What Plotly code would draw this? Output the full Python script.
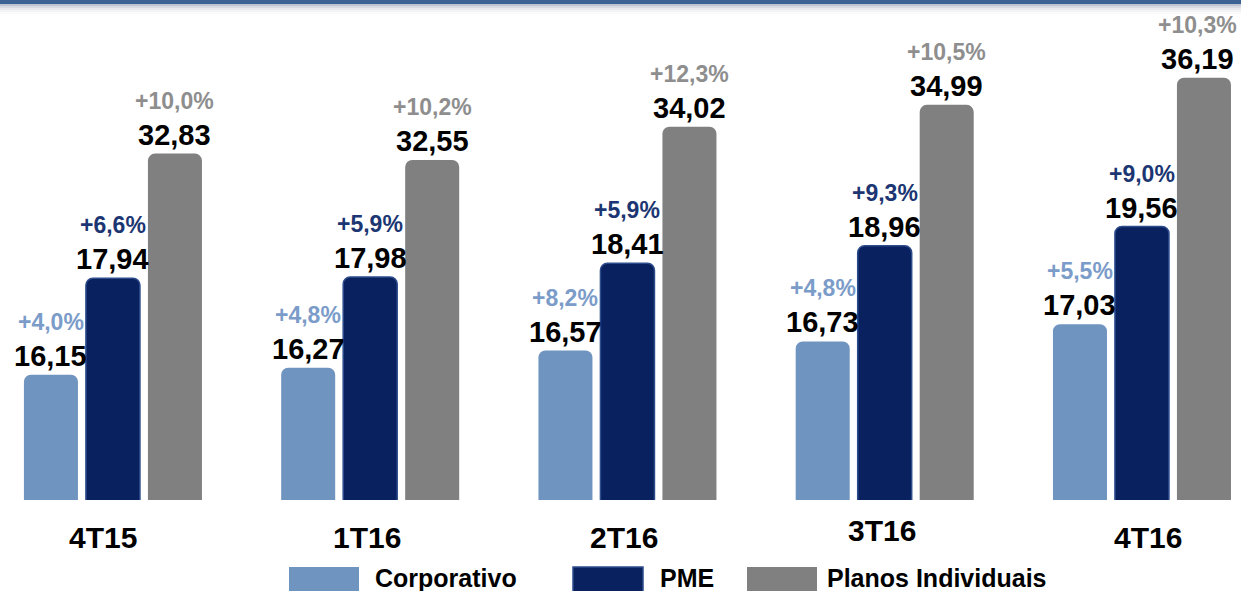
import plotly.graph_objects as go

# ---- data ----
categories = ["4T15", "1T16", "2T16", "3T16", "4T16"]
series_names = ["Corporativo", "PME", "Planos Individuais"]
corporativo = [16.15, 16.27, 16.57, 16.73, 17.03]
pme = [17.94, 17.98, 18.41, 18.96, 19.56]
planos = [32.83, 32.55, 34.02, 34.99, 36.19]
corporativo_growth = ["+4,0%", "+4,8%", "+8,2%", "+4,8%", "+5,5%"]
pme_growth = ["+6,6%", "+5,9%", "+5,9%", "+9,3%", "+9,0%"]
planos_growth = ["+10,0%", "+10,2%", "+12,3%", "+10,5%", "+10,3%"]

# ---- styles ----
W, H = 1241, 591
FONT = "Arial, Liberation Sans, sans-serif"
bar_colors = ["#6f94c0", "#0a2160", "#808080"]
bar_lines = ["#6f94c0", "#2d4c8c", "#808080"]
pct_colors = ["#7b9cc9", "#1b3672", "#8e8e8e"]
axis_ranges = [[13.97, 22.67], [11.0, 26.65], [17.47, 39.64]]
offsets = [-0.346, -0.105, 0.136]
bar_w = 0.21
yrefs = ["y", "y2", "y3"]

fig = go.Figure()
x = list(range(len(categories)))
values = [corporativo, pme, planos]
growths = [corporativo_growth, pme_growth, planos_growth]

annotations = []
for k, (name, vals, gr) in enumerate(zip(series_names, values, growths)):
    fig.add_trace(go.Bar(
        x=x, y=vals, name=name, yaxis=yrefs[k],
        offset=offsets[k], width=bar_w,
        marker=dict(color=bar_colors[k], cornerradius=7,
                    line=dict(color=bar_lines[k], width=1.5 if k == 1 else 0)),
        showlegend=False, hoverinfo="skip",
    ))
    for i, v in enumerate(vals):
        cx = i + offsets[k] + bar_w / 2
        edge_shift = -6 if (k == 2 and i == len(vals) - 1) else 0
        annotations.append(dict(
            x=cx, y=v, xref="x", yref=yrefs[k], text=f"{v:.2f}".replace(".", ","),
            showarrow=False, yanchor="middle", yshift=19, xshift=edge_shift,
            font=dict(family=FONT, size=29, color="#000000", weight="bold")))
        annotations.append(dict(
            x=cx, y=v, xref="x", yref=yrefs[k], text=gr[i],
            showarrow=False, yanchor="middle", yshift=53, xshift=edge_shift,
            font=dict(family=FONT, size=23, color=pct_colors[k], weight="bold")))

# category labels under groups
cat_y_px = [537, 537, 537, 530, 537]
cat_x_shift = [-10, -3, -3, -3, 6]
PLOT_BOTTOM = 500
for i, c in enumerate(categories):
    annotations.append(dict(
        x=i, y=(PLOT_BOTTOM - cat_y_px[i]) / PLOT_BOTTOM, xref="x", yref="paper",
        text=c, showarrow=False, yanchor="middle", xshift=cat_x_shift[i],
        font=dict(family=FONT, size=30, color="#000000", weight="bold")))

# manual legend
shapes = []
legend_swatch_px = [(289, 359), (573, 643), (747, 817)]
legend_text_px = [373, 658, 825]
def py(p):
    return (PLOT_BOTTOM - p) / PLOT_BOTTOM
for k, name in enumerate(series_names):
    x0, x1 = legend_swatch_px[k]
    shapes.append(dict(type="rect", xref="paper", yref="paper",
                       x0=x0 / W, x1=x1 / W, y0=py(596), y1=py(567),
                       fillcolor=bar_colors[k],
                       line=dict(color=bar_lines[k], width=1.5 if k == 1 else 0)))
    annotations.append(dict(
        x=legend_text_px[k] / W, y=py(578), xref="paper", yref="paper",
        text=name, showarrow=False, xanchor="left", yanchor="middle",
        font=dict(family=FONT, size=25, color="#000000", weight="bold")))

# top header line with soft shadow
shadow = ["#bfc6d0", "#d9dde3", "#e9ebee", "#f3f4f6", "#fafafa"]
for j, col in enumerate(shadow):
    shapes.append(dict(type="rect", xref="paper", yref="paper", x0=0, x1=1,
                       y0=py(4 + j * 2 + 2), y1=py(4 + j * 2),
                       fillcolor=col, line=dict(width=0), layer="below"))
shapes.append(dict(type="rect", xref="paper", yref="paper", x0=0, x1=1,
                   y0=py(4), y1=py(0), fillcolor="#3e6395", line=dict(width=0)))

fig.update_layout(
    width=W, height=H,
    margin=dict(l=0, r=0, t=0, b=H - PLOT_BOTTOM, pad=0),
    paper_bgcolor="white", plot_bgcolor="white",
    barmode="overlay",
    xaxis=dict(range=[-0.439, 4.385], visible=False, fixedrange=True),
    yaxis=dict(range=axis_ranges[0], visible=False),
    yaxis2=dict(range=axis_ranges[1], visible=False, overlaying="y"),
    yaxis3=dict(range=axis_ranges[2], visible=False, overlaying="y"),
    annotations=annotations,
    shapes=shapes,
    showlegend=False,
)

fig.write_html("out.html", config={"displayModeBar": False},
               post_script="document.body.style.margin='0';")
